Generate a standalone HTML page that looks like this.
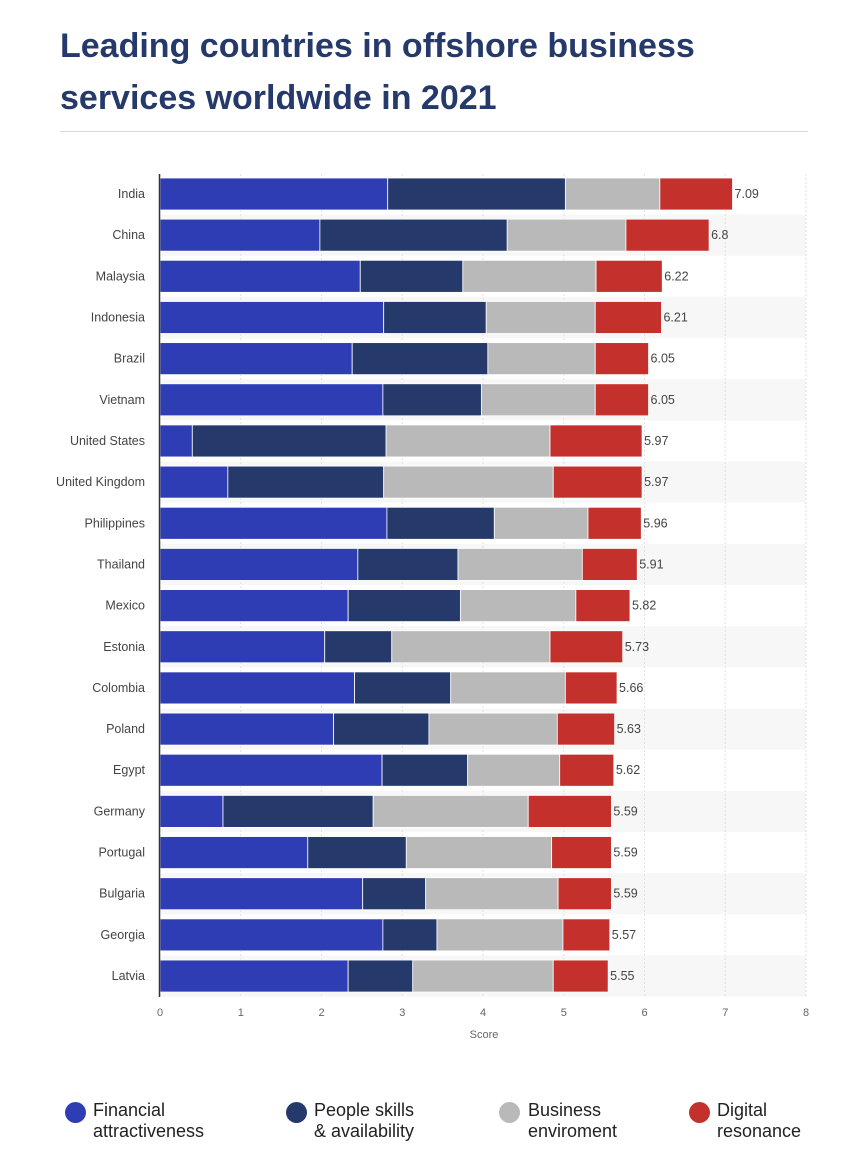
<!DOCTYPE html>
<html><head><meta charset="utf-8">
<style>
body{margin:0;background:#fff;font-family:"Liberation Sans",sans-serif;}
#wrap{position:relative;width:856px;height:1174px;overflow:hidden;}
h1{position:absolute;left:60px;top:20px;margin:0;font-size:34px;line-height:52px;color:#253a6b;font-weight:bold;width:680px;}
#sep{position:absolute;left:60px;top:131px;width:748px;height:1px;background:#d8d8d8;}
.leg{position:absolute;top:1100px;font-size:18px;color:#222;line-height:21px;}
.dot{position:absolute;top:1102px;width:21px;height:21px;border-radius:50%;}
</style></head><body>
<div id="wrap">
<h1>Leading countries in offshore business services worldwide in 2021</h1>
<div id="sep"></div>
<svg id="chart" width="856" height="1060" style="position:absolute;left:0;top:0"></svg>
<div class="dot" style="left:65px;background:#2f3db5"></div>
<div class="leg" style="left:93px">Financial<br>attractiveness</div>
<div class="dot" style="left:286px;background:#253a6b"></div>
<div class="leg" style="left:314px">People skills<br>&amp; availability</div>
<div class="dot" style="left:499px;background:#b9b9b9"></div>
<div class="leg" style="left:528px">Business<br>enviroment</div>
<div class="dot" style="left:689px;background:#c4302b"></div>
<div class="leg" style="left:717px">Digital<br>resonance</div>
</div>
<script>
const categories=["India","China","Malaysia","Indonesia","Brazil","Vietnam","United States","United Kingdom","Philippines","Thailand","Mexico","Estonia","Colombia","Poland","Egypt","Germany","Portugal","Bulgaria","Georgia","Latvia"];
const financial=[2.82,1.98,2.48,2.77,2.38,2.76,0.40,0.84,2.81,2.45,2.33,2.04,2.41,2.15,2.75,0.78,1.83,2.51,2.76,2.33];
const people=[2.20,2.32,1.27,1.27,1.68,1.22,2.40,1.93,1.33,1.24,1.39,0.83,1.19,1.18,1.06,1.86,1.22,0.78,0.67,0.80];
const business=[1.17,1.47,1.65,1.35,1.33,1.41,2.03,2.10,1.16,1.54,1.43,1.96,1.42,1.59,1.14,1.92,1.80,1.64,1.56,1.74];
const digital=[0.90,1.03,0.82,0.82,0.66,0.66,1.14,1.10,0.66,0.68,0.67,0.90,0.64,0.71,0.67,1.03,0.74,0.66,0.58,0.68];
const totals=["7.09","6.8","6.22","6.21","6.05","6.05","5.97","5.97","5.96","5.91","5.82","5.73","5.66","5.63","5.62","5.59","5.59","5.59","5.57","5.55"];
const ticks=[0,1,2,3,4,5,6,7,8];
const series=[financial,people,business,digital];
const colors=["#2f3db5","#253a6b","#b9b9b9","#c4302b"];
const names=["financial","people","business","digital"];
const NS="http://www.w3.org/2000/svg";
const svg=document.getElementById("chart");
const x0=160,x1=806,plotTop=174,step=41.16;
const xs=v=>x0+v/8*(x1-x0);
const yc=i=>plotTop+20+i*step;
function mk(t,a){const e=document.createElementNS(NS,t);for(const k in a)e.setAttribute(k,a[k]);svg.appendChild(e);return e;}
categories.forEach((c,i)=>{if(i%2===1){const r=mk("rect",{x:x0,y:yc(i)-step/2,width:x1-x0,height:step,fill:"#f7f7f7"});

}});
ticks.forEach(t=>{const l=mk("line",{x1:xs(t),x2:xs(t),y1:plotTop,y2:997,stroke:"#e2e2e2","stroke-dasharray":"2,2"});


const tx=mk("text",{x:xs(t),y:1016,"text-anchor":"middle","font-size":"11",fill:"#666"});tx.textContent=t;

});
const st=mk("text",{x:484,y:1038,"text-anchor":"middle","font-size":"11",fill:"#666"});st.textContent="Score";


categories.forEach((c,i)=>{let acc=0;
series.forEach((s,k)=>{const r=mk("rect",{x:xs(acc),y:yc(i)-16,width:xs(acc+s[i])-xs(acc),height:32,fill:colors[k],stroke:"#fff","stroke-width":"0.8"});


acc+=s[i];});
const lb=mk("text",{x:145,y:yc(i)+4,"text-anchor":"end","font-size":"12.5",fill:"#444"});lb.textContent=c;


const v=mk("text",{x:xs(acc)+2,y:yc(i)+4,"font-size":"12.5",fill:"#444"});v.textContent=totals[i];

});
const ax=mk("line",{x1:x0-0.5,x2:x0-0.5,y1:plotTop,y2:997,stroke:"#333","stroke-width":"1.5"});


</script>
</body></html>
